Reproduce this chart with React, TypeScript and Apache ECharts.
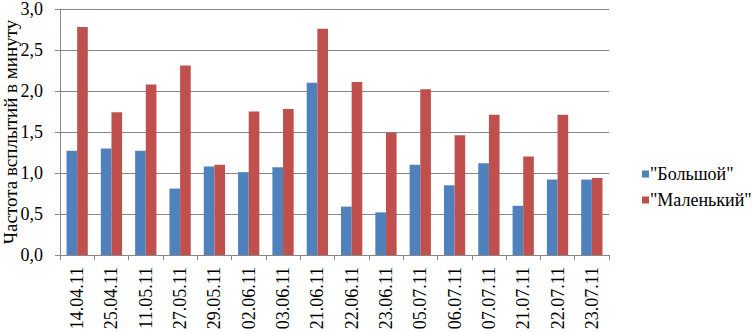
import React, { useEffect, useRef } from "react";
import * as echarts from "echarts";

const categories = [
  "14.04.11", "25.04.11", "11.05.11", "27.05.11", "29.05.11", "02.06.11",
  "03.06.11", "21.06.11", "22.06.11", "23.06.11", "05.07.11", "06.07.11",
  "07.07.11", "21.07.11", "22.07.11", "23.07.11",
];
const bigValues = [1.27, 1.3, 1.27, 0.81, 1.08, 1.01, 1.07, 2.1, 0.59, 0.52, 1.1, 0.85, 1.12, 0.6, 0.92, 0.92];
const smallValues = [2.78, 1.74, 2.08, 2.31, 1.1, 1.75, 1.78, 2.76, 2.11, 1.49, 2.02, 1.46, 1.71, 1.2, 1.71, 0.94];
const seriesNames = ['"Большой"', '"Маленький"'];
const yTitle = "Частота всплытий в минуту";

const FONT = "Liberation Serif";
const GRID = "#878787";

export default function App() {
  const ref = useRef<HTMLDivElement>(null);
  useEffect(() => {
    if (!ref.current) return;
    const chart = echarts.init(ref.current, null, { renderer: "svg" });
    const txt = { fontFamily: FONT, fontSize: 18, color: "#000", fontWeight: "normal" as const };
    chart.setOption({
      animation: false,
      textStyle: { fontFamily: FONT, color: "#000" },
      grid: { left: 60, right: 143, top: 9, bottom: 77, containLabel: false, outerBoundsMode: "none" },
      legend: {
        orient: "vertical",
        left: 637,
        top: 160,
        itemWidth: 7,
        itemHeight: 7,
        itemGap: 8,
        icon: "rect",
        textStyle: { ...txt, padding: [0, 0, 0, -4] },
        data: seriesNames,
      },
      xAxis: {
        type: "category",
        data: categories,
        axisLine: { show: true, lineStyle: { color: GRID, width: 1 } },
        axisTick: { show: true, length: 5, alignWithLabel: false, lineStyle: { color: GRID } },
        axisLabel: { ...txt, rotate: 90, margin: 12, interval: 0 },
      },
      yAxis: {
        type: "value",
        min: 0,
        max: 3,
        interval: 0.5,
        name: yTitle,
        nameLocation: "middle",
        nameRotate: 90,
        nameGap: 40,
        nameMoveOverlap: false,
        nameTextStyle: { ...txt, fontSize: 19 },
        axisLine: { show: true, lineStyle: { color: GRID, width: 1 } },
        axisTick: { show: true, length: 5, lineStyle: { color: GRID } },
        splitLine: { show: true, lineStyle: { color: GRID, width: 1 } },
        axisLabel: {
          ...txt,
          margin: 17,
          formatter: (v: number) => v.toFixed(1).replace(".", ","),
        },
      },
      series: [
        {
          name: seriesNames[0],
          type: "bar",
          data: bigValues,
          barGap: "0%",
          barCategoryGap: "38%",
          itemStyle: { color: "#4F81BD" },
        },
        {
          name: seriesNames[1],
          type: "bar",
          data: smallValues,
          barGap: "0%",
          barCategoryGap: "38%",
          itemStyle: { color: "#C0504D" },
        },
      ],
    });
    return () => chart.dispose();
  }, []);
  return <div ref={ref} style={{ width: 752, height: 332, position: "absolute", left: 0, top: 0 }} />;
}
